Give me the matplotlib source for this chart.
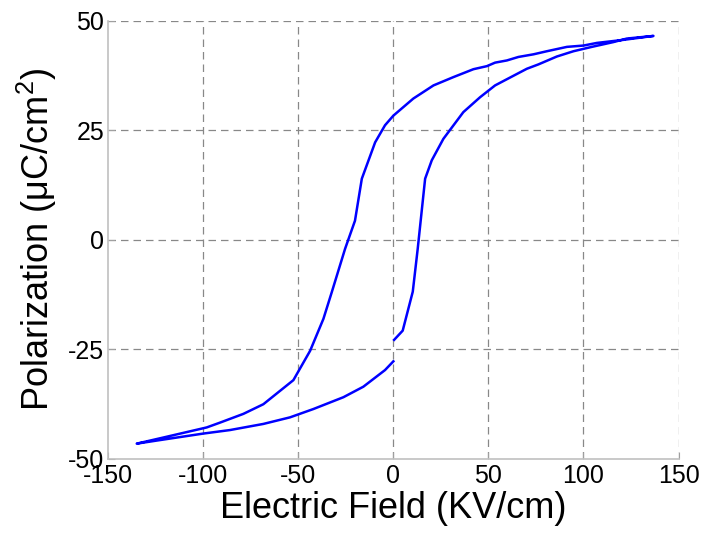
import numpy as np
import matplotlib
matplotlib.use('Agg')
import matplotlib.pyplot as plt

plt.rcParams['font.family'] = ['Liberation Sans', 'DejaVu Sans']
plt.rcParams['axes.unicode_minus'] = False
plt.rcParams['mathtext.default'] = 'regular'

# rising branch (from E=0 up to max field)
rise_x = [0.4, 4.9, 10.2, 12.8, 16.7, 20.2, 26.3, 36.8, 45.6, 53.5, 61.4,
          70.2, 76.3, 86.0, 94.7, 104.4, 115.8, 122.8, 136.8]
rise_y = [-22.9, -20.8, -11.9, -2.1, 13.9, 18.1, 23.0, 29.1, 32.5, 35.2, 37.0,
          39.0, 40.0, 41.8, 43.0, 44.0, 45.1, 45.9, 46.5]

# falling branch (max field down to min field)
fall_x = [136.8, 121.0, 107.0, 100.0, 91.3, 80.7, 73.7, 65.8, 59.7, 53.5, 49.2,
          42.1, 31.6, 21.1, 10.5, 0.0, -4.4, -9.6, -16.6, -20.2, -25.4, -32.4,
          -36.8, -43.8, -52.6, -68.4, -78.9, -91.2, -98.2, -121.0, -135.0]
fall_y = [46.5, 45.6, 44.9, 44.3, 44.0, 43.0, 42.3, 41.7, 40.9, 40.4, 39.6,
          38.9, 37.1, 35.2, 32.2, 28.3, 26.1, 22.2, 13.9, 4.3, -2.1, -12.0,
          -18.1, -25.4, -32.1, -37.6, -39.8, -41.8, -42.9, -45.2, -46.6]

# return branch (min field back to E=0)
back_x = [-135.0, -124.5, -100.0, -86.0, -68.4, -54.4, -42.1, -26.3, -15.8, -4.4, 0.0]
back_y = [-46.6, -45.9, -44.3, -43.5, -42.1, -40.6, -38.7, -36.0, -33.6, -29.8, -27.8]

x = rise_x + fall_x[1:] + back_x[1:]
y = rise_y + fall_y[1:] + back_y[1:]

fig = plt.figure(figsize=(7.12, 5.42), dpi=100)
ax = fig.add_axes([0.152, 0.154, 0.801, 0.808])

ax.plot(x, y, color='#0000ff', linewidth=1.8, zorder=3)

ax.set_xlim(-150, 150)
ax.set_ylim(-50, 50)
ax.set_xticks([-150, -100, -50, 0, 50, 100, 150])
ax.set_yticks([-50, -25, 0, 25, 50])

# dashed grid, the top and right grid lines close the box
for gx in [-100, -50, 0, 50, 100, 150]:
    ax.axvline(gx, color='#888888', linestyle=(0, (6, 4)), linewidth=0.9, zorder=1)
for gy in [-25, 0, 25, 50]:
    ax.axhline(gy, color='#888888', linestyle=(0, (6, 4)), linewidth=0.9, zorder=1)

for side in ['top', 'right']:
    ax.spines[side].set_visible(False)
for side in ['left', 'bottom']:
    ax.spines[side].set_color('#c0c0c0')
    ax.spines[side].set_linewidth(1.2)

ax.tick_params(direction='in', length=5, color='#a0a0a0', labelsize=18, pad=4)
ax.tick_params(axis='y', pad=3)

ax.set_xlabel('Electric Field (KV/cm)', fontsize=26, labelpad=2)
ax.set_ylabel('Polarization (μC/cm$^2$)', fontsize=26, labelpad=6)

fig.savefig('out.png', dpi=100)
